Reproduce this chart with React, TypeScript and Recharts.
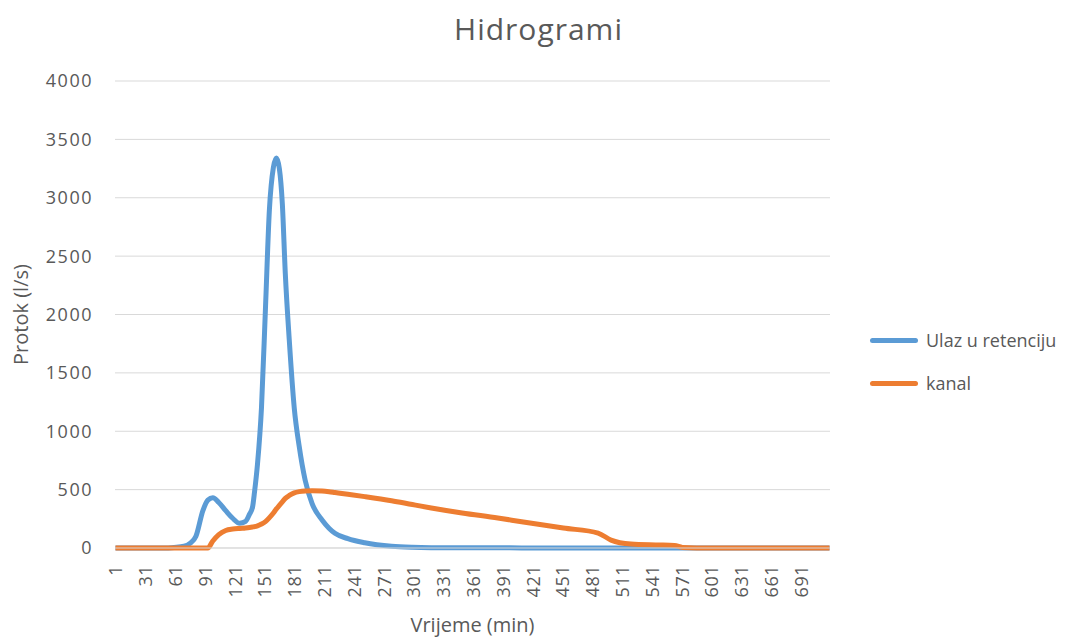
import { LineChart, Line, XAxis, YAxis, CartesianGrid, Legend } from 'recharts'

const minutes = [
  1, 30, 50, 60, 70, 76, 82, 89, 94, 99, 105, 112, 119, 126, 132, 136, 139, 141, 144, 148,
  152, 156, 160, 163, 166, 169, 172, 176, 181, 186, 192, 199, 209, 216, 222, 235, 252, 279,
  300, 319, 350, 386, 410, 452, 487, 500, 520, 545, 564, 572, 600, 650, 720,
]

// Ulaz u retenciju (l/s)
const ulaz = [
  0, 0, 0, 5, 15, 40, 100, 320, 410, 430, 390, 320, 255, 212, 228, 290, 350, 480, 720, 1200,
  2050, 2900, 3260, 3340, 3250, 2950, 2350, 1780, 1200, 870, 580, 380, 240, 170, 126, 80, 45, 15,
  6, 3, 2, 2, 1, 1, 0, 0, 0, 0, 0, 0, 0, 0, 0,
]

// kanal (l/s)
const kanal = [
  0, 0, 0, 0, 0, 0, 0, 0, 0, 60, 115, 150, 162, 168, 172, 176, 180, 183, 190, 205,
  226, 260, 300, 335, 365, 395, 425, 450, 472, 483, 489, 491, 488, 482, 475, 460, 440, 405,
  372, 343, 300, 257, 225, 171, 128, 68, 34, 26, 22, 5, 0, 0, 0,
]

const xTicks = [1, 31, 61, 91, 121, 151, 181, 211, 241, 271, 301, 331, 361, 391, 421, 451, 481, 511, 541, 571, 601, 631, 661, 691]
const yTicks = [0, 500, 1000, 1500, 2000, 2500, 3000, 3500, 4000]

const data = minutes.map((m, i) => ({ min: m, ulaz: ulaz[i], kanal: kanal[i] }))

const FONT = '"Open Sans", sans-serif'
const GREY = '#595959'
const BLUE = '#5B9BD5'
const ORANGE = '#ED7D31'

const XTick = ({ x, y, payload }: any) => (
  <text
    transform={`translate(${x},${y + 9}) rotate(-90)`}
    textAnchor="end"
    dominantBaseline="central"
    fontSize={18}
    fill={GREY}
    fontFamily={FONT}
    letterSpacing={0.5}
  >
    {payload.value}
  </text>
)

const LegendBox = () => (
  <div style={{ fontFamily: FONT, fontSize: 18, color: GREY }}>
    {[
      { label: 'Ulaz u retenciju', color: BLUE },
      { label: 'kanal', color: ORANGE },
    ].map((it, i) => (
      <div key={it.label} style={{ display: 'flex', alignItems: 'center', height: 24, marginTop: i ? 19 : 0 }}>
        <span style={{ display: 'inline-block', width: 48, height: 5, borderRadius: 3, background: it.color, marginRight: 8 }} />
        {it.label}
      </div>
    ))}
  </div>
)

export default function App() {
  return (
    <div style={{ position: 'absolute', left: 0, top: 0, width: 1081, height: 638, background: '#fff' }}>
      <div
        style={{
          position: 'absolute',
          top: 8,
          width: 1081,
          left: -2,
          textAlign: 'center',
          fontFamily: FONT,
          fontSize: 30,
          color: GREY,
          letterSpacing: 1,
        }}
      >
        Hidrogrami
      </div>
      {/* legend width (210) is added to the right offset by recharts */}
      <LineChart width={1081} height={638} data={data} margin={{ top: 81, right: 41, bottom: 10, left: 10 }}>
        <CartesianGrid vertical={false} stroke="#d9d9d9" />
        <XAxis
          dataKey="min"
          type="number"
          domain={[0.5, 720.5]}
          ticks={xTicks}
          interval={0}
          height={80}
          axisLine={{ stroke: '#d9d9d9' }}
          tickLine={false}
          tick={<XTick />}
          label={{ value: 'Vrijeme (min)', position: 'insideBottom', offset: -4, fontSize: 20, fill: GREY, fontFamily: FONT }}
        />
        <YAxis
          domain={[0, 4000]}
          ticks={yTicks}
          width={105}
          axisLine={false}
          tickLine={false}
          tickMargin={16}
          tick={{ fontSize: 18, fill: GREY, fontFamily: FONT, letterSpacing: 1.5 }}
          label={{ value: 'Protok (l/s)', angle: -90, position: 'center', dx: -42, fontSize: 20, fill: GREY, fontFamily: FONT }}
        />
        <Legend
          layout="horizontal"
          verticalAlign="middle"
          align="right"
          content={<LegendBox />}
          wrapperStyle={{ position: 'absolute', left: 870, top: 328, width: 210 }}
        />
        <Line
          dataKey="ulaz"
          name="Ulaz u retenciju"
          type="monotone"
          stroke={BLUE}
          strokeWidth={5}
          dot={false}
          isAnimationActive={false}
        />
        <Line
          dataKey="kanal"
          name="kanal"
          type="monotone"
          stroke={ORANGE}
          strokeWidth={5}
          dot={false}
          isAnimationActive={false}
        />
      </LineChart>
    </div>
  )
}
